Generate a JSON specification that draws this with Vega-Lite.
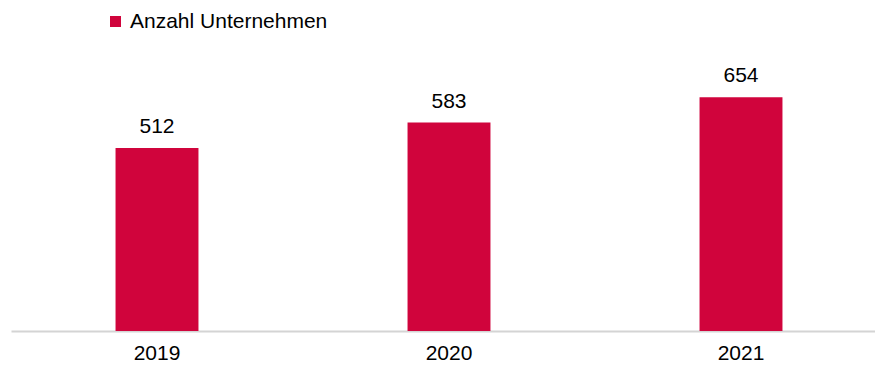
{
  "$schema": "https://vega.github.io/schema/vega-lite/v6.json",
  "width": 876,
  "height": 331,
  "autosize": {"type": "none"},
  "padding": {"left": 11, "top": 0, "right": 0, "bottom": 34},
  "background": "white",
  "config": {
    "view": {"stroke": null},
    "font": "Liberation Sans"
  },
  "data": {
    "values": [
      {"Jahr": "2019", "Wert": 512, "Serie": "Anzahl Unternehmen"},
      {"Jahr": "2020", "Wert": 583, "Serie": "Anzahl Unternehmen"},
      {"Jahr": "2021", "Wert": 654, "Serie": "Anzahl Unternehmen"}
    ]
  },
  "encoding": {
    "x": {
      "field": "Jahr",
      "type": "ordinal",
      "scale": {"paddingInner": 0.716, "paddingOuter": 0.358},
      "axis": {
        "title": null,
        "labelAngle": 0,
        "labelFontSize": 21,
        "labelColor": "#000000",
        "labelPadding": 11,
        "ticks": false,
        "domainColor": "#d4d4d4",
        "domainWidth": 2
      }
    },
    "y": {
      "field": "Wert",
      "type": "quantitative",
      "scale": {"domain": [0, 926]},
      "axis": null
    }
  },
  "layer": [
    {
      "mark": {"type": "bar", "color": "#D0043C"},
      "encoding": {
        "color": {
          "field": "Serie",
          "type": "nominal",
          "scale": {"range": ["#D0043C"]},
          "legend": {
            "title": null,
            "orient": "none",
            "legendX": 94,
            "legendY": 11,
            "symbolType": "square",
            "symbolSize": 121,
            "symbolStrokeWidth": 0,
            "symbolOpacity": 1,
            "labelFontSize": 21,
            "labelLimit": 400,
            "labelColor": "#000000",
            "labelOffset": 4
          }
        }
      }
    },
    {
      "mark": {"type": "text", "baseline": "alphabetic", "dy": -15, "fontSize": 21, "color": "#000000"},
      "encoding": {"text": {"field": "Wert", "type": "quantitative"}}
    }
  ]
}
